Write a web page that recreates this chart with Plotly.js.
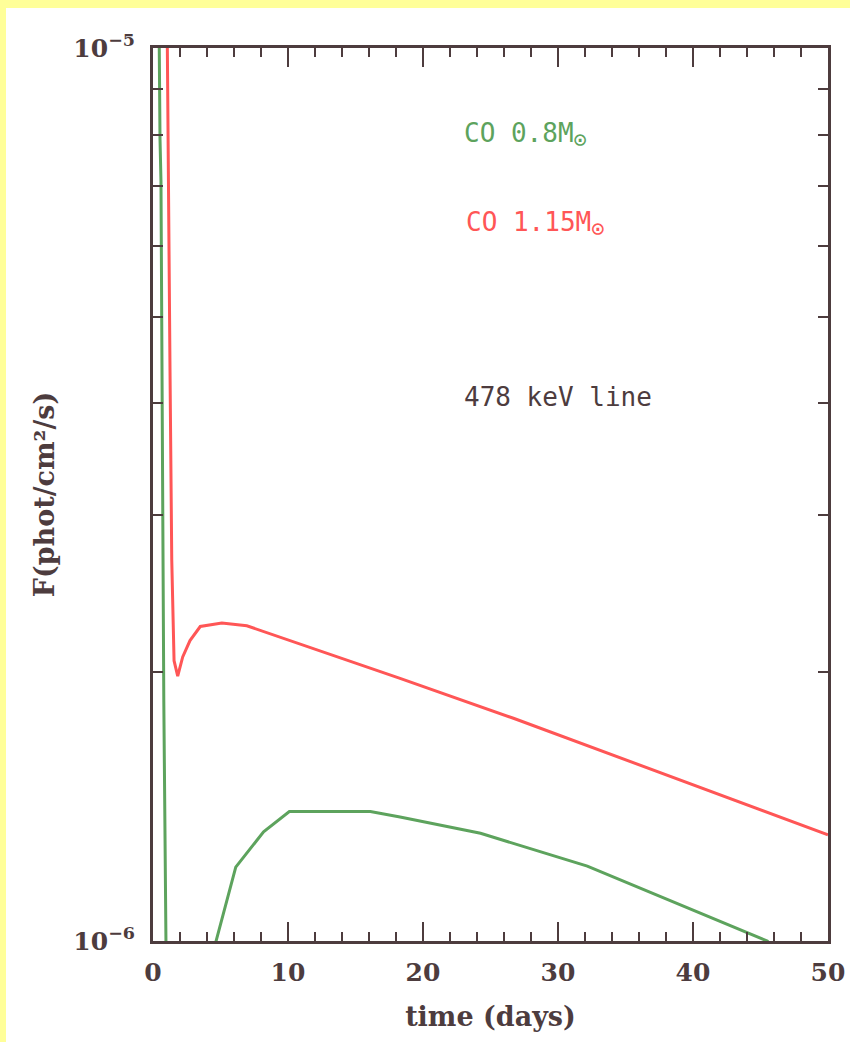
<!DOCTYPE html>
<html>
<head>
<meta charset="utf-8">
<script src="https://cdn.plot.ly/plotly-3.0.1.min.js"></script>
<style>
  html, body { margin: 0; padding: 0; background: #ffff99; width: 850px; height: 1042px; overflow: hidden; }
  #chart { position: absolute; left: 6px; top: 8px; width: 844px; height: 1034px; background: #ffffff; }
</style>
</head>
<body>
<div id="chart"></div>
<script>
// ---- data ----
var greenTime = [0.42, 0.445, 0.52, 0.59, 0.67, 0.765, 0.8, 0.96, 1.0, 4.2, 4.67, 6.13, 8.19, 10.1, 16.1, 18.3, 24.26, 32.17, 45.5, 47];
var greenFlux = [1.2e-5, 9.8e-6, 7.9e-6, 7.1e-6, 4.36e-6, 2.67e-6, 1.86e-6, 1.0e-6, 5e-7, 9.4e-7, 1.0e-6, 1.21e-6, 1.325e-6, 1.396e-6, 1.396e-6, 1.377e-6, 1.32e-6, 1.213e-6, 1.0e-6, 0.95e-6];

var redTime = [1.0, 1.06, 1.1, 1.26, 1.39, 1.56, 1.83, 2.2, 2.74, 3.5, 5.1, 6.95, 18.3, 26.7, 50];
var redFlux = [1.3e-5, 1.0e-5, 7.1e-6, 4.36e-6, 2.67e-6, 2.06e-6, 1.98e-6, 2.08e-6, 2.17e-6, 2.25e-6, 2.27e-6, 2.254e-6, 1.968e-6, 1.776e-6, 1.315e-6];

var seriesNames = ['CO 0.8M<sub><span style="font-size:22px">⊙</span></sub>', 'CO 1.15M<sub><span style="font-size:22px">⊙</span></sub>'];
var noteText = '478 keV line';

var yTickVals = [1e-6, 1e-5];
var yTickText = ['10<sup>−6</sup>', '10<sup>−5</sup>'];
var yMinorVals = [2e-6, 3e-6, 4e-6, 5e-6, 6e-6, 7e-6, 8e-6, 9e-6];
var xTickVals = [0, 10, 20, 30, 40, 50];
var xTickText = ['0', '10', '20', '30', '40', '50'];

var axisColor = '#4d3c3e';
var greenColor = '#5da35d';
var redColor = '#ff5656';
var tickFont = { family: 'DejaVu Serif', size: 25, color: axisColor, weight: 'bold' };
var titleFont = { family: 'DejaVu Serif', size: 27, color: axisColor, weight: 'bold' };

var traces = [
  { x: greenTime, y: greenFlux, mode: 'lines', name: 'CO 0.8M',
    line: { color: greenColor, width: 3 }, hoverinfo: 'none' },
  { x: redTime, y: redFlux, mode: 'lines', name: 'CO 1.15M',
    line: { color: redColor, width: 3 }, hoverinfo: 'none' }
];

var layout = {
  width: 844, height: 1034,
  margin: { l: 147, r: 22, t: 40, b: 101 },
  paper_bgcolor: '#ffffff', plot_bgcolor: '#ffffff',
  showlegend: false,
  xaxis: {
    range: [0, 50], tickmode: 'array', tickvals: xTickVals, ticktext: xTickText,
    ticks: 'inside', ticklen: 19, tickwidth: 2, tickcolor: axisColor,
    minor: { dtick: 2, ticks: 'inside', ticklen: 9, tickwidth: 2, tickcolor: axisColor },
    showline: true, linewidth: 3, linecolor: axisColor, mirror: 'ticks',
    showgrid: false, zeroline: false, ticklabelstandoff: 7,
    tickfont: tickFont,
    title: { text: 'time (days)', font: titleFont, standoff: 22 }
  },
  yaxis: {
    type: 'log', range: [-6, -5], tickmode: 'array', tickvals: yTickVals, ticktext: yTickText,
    ticks: 'inside', ticklen: 10, tickwidth: 2, tickcolor: axisColor,
    minor: { tickmode: 'array', tickvals: yMinorVals, ticks: 'inside', ticklen: 10, tickwidth: 2, tickcolor: axisColor },
    showline: true, linewidth: 3, linecolor: axisColor, mirror: 'ticks',
    showgrid: false, zeroline: false, ticklabelstandoff: 10,
    tickfont: tickFont,
    title: { text: 'F(phot/cm²/s)', font: titleFont, standoff: 11 }
  },
  annotations: [
    { xref: 'paper', yref: 'paper', x: 0.458, y: 0.903, xanchor: 'left', yanchor: 'middle',
      text: seriesNames[0], showarrow: false,
      font: { family: 'DejaVu Sans Mono', size: 26, color: greenColor } },
    { xref: 'paper', yref: 'paper', x: 0.461, y: 0.803, xanchor: 'left', yanchor: 'middle',
      text: seriesNames[1], showarrow: false,
      font: { family: 'DejaVu Sans Mono', size: 26, color: redColor } },
    { xref: 'paper', yref: 'paper', x: 0.458, y: 0.609, xanchor: 'left', yanchor: 'middle',
      text: noteText, showarrow: false,
      font: { family: 'DejaVu Sans Mono', size: 26, color: axisColor } }
  ]
};

Plotly.newPlot('chart', traces, layout, { staticPlot: true, displayModeBar: false });
</script>
</body>
</html>
